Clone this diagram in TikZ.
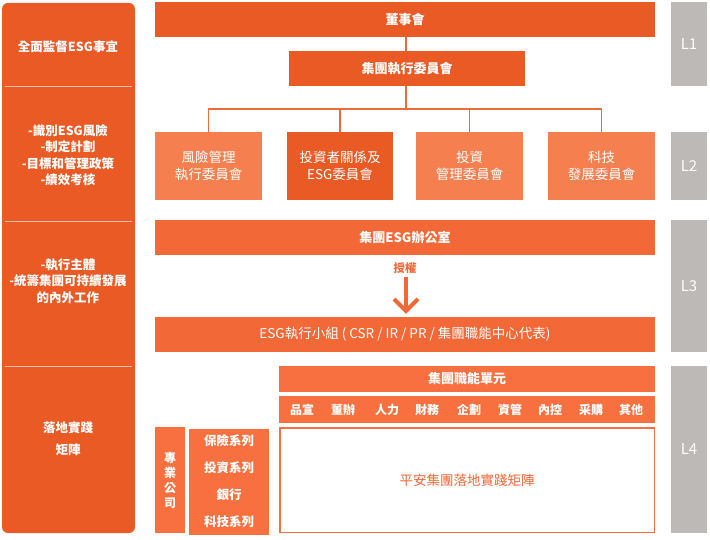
\documentclass[tikz,border=0pt]{standalone}
\usepackage{fontspec}
\setmainfont{Noto Sans CJK TC}
\usetikzlibrary{arrows.meta}
\definecolor{dko}{HTML}{E95A25}
\definecolor{lto}{HTML}{F67F50}
\definecolor{mdo}{HTML}{F36837}
\definecolor{l4o}{HTML}{F8703F}
\definecolor{gry}{HTML}{BDB9B6}
\definecolor{lnc}{HTML}{EE6A3A}
\tikzset{
  base/.style={inner sep=0pt, outer sep=0pt, text=white, align=center, font=\fontsize{13.5}{16.5}\selectfont},
  darkbox/.style={base, fill=dko, font=\fontsize{13}{16}\selectfont\bfseries},
  lightbox/.style={base, fill=lto},
  l2dark/.style={base, fill=dko},
  midbox/.style={base, fill=mdo},
  l4box/.style={base, fill=l4o, font=\fontsize{13}{16}\selectfont\bfseries},
  graybox/.style={base, fill=gry, font=\fontsize{15}{16}\selectfont},
  lefttxt/.style={inner sep=0pt, text=white, align=center, font=\fontsize{12.5}{16.5}\selectfont\bfseries},
  item/.style={inner sep=0pt, text=white, font=\fontsize{12}{14}\selectfont\bfseries},
  conn/.style={draw=lnc, line width=1.5pt},
}
\begin{document}
\begin{tikzpicture}[x=1pt,y=-1pt]
\useasboundingbox (0,0) rectangle (710,540);
% left panel
\node[fill=dko, rounded corners=6pt, minimum width=133pt, minimum height=530pt, inner sep=0pt] (left) at (68.5,268) {};
\coordinate (d1a) at (5,86); \coordinate (d1b) at (132,86);
\coordinate (d2a) at (5,221.5); \coordinate (d2b) at (132,221.5);
\coordinate (d3a) at (5,366); \coordinate (d3b) at (132,366);
\draw[white!60!dko, line width=0.8pt] (d1a) -- (d1b);
\draw[white!60!dko, line width=0.8pt] (d2a) -- (d2b);
\draw[white!60!dko, line width=0.8pt] (d3a) -- (d3b);
\node[lefttxt] (t1) at (68,47) {全面監督ESG事宜};
\node[lefttxt] (t2) at (68,155) {-識別ESG風險\\-制定計劃\\-目標和管理政策\\-績效考核};
\node[lefttxt] (t3) at (68,281) {-執行主體\\-統籌集團可持續發展\\的內外工作};
\node[lefttxt, font=\fontsize{12.5}{22}\selectfont\bfseries] (t4) at (68,439) {落地實踐\\矩陣};
% gray level column
\node[graybox, minimum width=36pt, minimum height=84pt] (L1) at (689,44) {L1};
\node[graybox, minimum width=36pt, minimum height=68pt] (L2) at (689,166) {L2};
\node[graybox, minimum width=36pt, minimum height=132pt] (L3) at (689,286) {L3};
\node[graybox, minimum width=36pt, minimum height=167pt] (L4) at (689,449.5) {L4};
% L1
\node[darkbox, minimum width=500pt, minimum height=35pt] (board) at (405,19.5) {董事會};
\node[darkbox, minimum width=236pt, minimum height=35pt] (exec) at (407,68.5) {集團執行委員會};
% L2
\node[lightbox, minimum width=107pt, minimum height=68pt] (c1) at (208.5,166) {風險管理\\執行委員會};
\node[l2dark, minimum width=106pt, minimum height=68pt] (c2) at (340,166) {投資者關係及\\ESG委員會};
\node[lightbox, minimum width=107pt, minimum height=68pt] (c3) at (469.5,166) {投資\\管理委員會};
\node[lightbox, minimum width=107pt, minimum height=68pt] (c4) at (601.5,166) {科技\\發展委員會};
\coordinate (bus) at (406,109);
\draw[conn] (exec.north -| bus) -- (board.south -| bus);
\draw[conn] (exec.south -| bus) -- (bus);
\draw[conn] (c1.north) |- (bus) -| (c4.north);
\draw[conn] (c2.north) -- (c2.north |- bus);
\draw[conn] (c3.north) -- (c3.north |- bus);
% L3
\node[midbox, minimum width=500pt, minimum height=35pt, font=\fontsize{13}{16}\selectfont\bfseries] (office) at (405,237.5) {集團ESG辦公室};
\node[inner sep=0pt, text=mdo, font=\fontsize{11.5}{12}\selectfont\bfseries] (auth) at (405,268) {授權};
\node[midbox, minimum width=500pt, minimum height=35pt] (group) at (405,334.5) {ESG執行小組 ( CSR / IR / PR / 集團職能中心代表)};
\coordinate (arrtop) at (406,277);
\coordinate (arrtip) at (406,311);
\coordinate (arrl) at (394,299);
\coordinate (arrr) at (418,299);
\draw[mdo, line width=4pt] (arrtop) -- (arrtip);
\draw[mdo, line width=4pt, line cap=butt, line join=miter] (arrl) -- (arrtip) -- (arrr);
% L4
\node[l4box, minimum width=376pt, minimum height=26pt] (func) at (467,379) {集團職能單元};
\node[l4box, minimum width=376pt, minimum height=27pt] (row) at (467,409.5) {};
\node[item] (i1) at (302,409.5) {品宣};
\node[item] (i2) at (343,409.5) {董辦};
\node[item] (i3) at (387,409.5) {人力};
\node[item] (i4) at (427,409.5) {財務};
\node[item] (i5) at (469,409.5) {企劃};
\node[item] (i6) at (510,409.5) {資管};
\node[item] (i7) at (550,409.5) {內控};
\node[item] (i8) at (591,409.5) {采購};
\node[item] (i9) at (631,409.5) {其他};
\node[base, fill=white, draw=l4o, line width=1.5pt, minimum width=374.5pt, minimum height=104.5pt, text=mdo] (matrix) at (467,480) {平安集團落地實踐矩陣};
\node[l4box, minimum width=30pt, minimum height=106pt, font=\fontsize{12}{15}\selectfont\bfseries] (prof) at (170,480) {專\\業\\公\\司};
\node[l4box, minimum width=80pt, minimum height=106pt, font=\fontsize{12.5}{27}\selectfont\bfseries] (series) at (229,481.5) {保險系列\\投資系列\\銀行\\科技系列};
\end{tikzpicture}
\end{document}
